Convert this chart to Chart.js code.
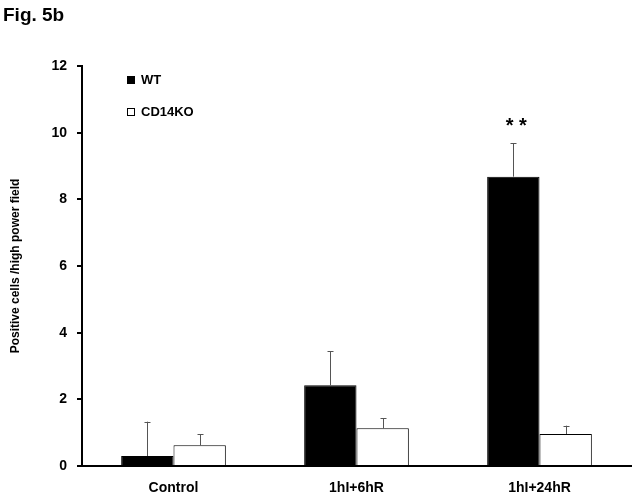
<!DOCTYPE html>
<html>
<head>
<meta charset="utf-8">
<script src="https://cdn.jsdelivr.net/npm/chart.js@4"></script>
<style>
  html, body { margin: 0; padding: 0; background: #fff; }
</style>
</head>
<body>
<canvas id="chart" width="635" height="496"></canvas>
<script>
// ---- data ----
const categories = ["Control", "1hI+6hR", "1hI+24hR"];
const seriesNames = ["WT", "CD14KO"];
const wtValues = [0.30, 2.42, 8.68];
const koValues = [0.62, 1.13, 0.96];
const wtErrors = [1.03, 1.02, 1.00];
const koErrors = [0.33, 0.30, 0.25];
const wtMarks = ["", "", "**"];
const yTicks = [0, 2, 4, 6, 8, 10, 12];

const FONT = "'Liberation Sans', Arial, sans-serif";

// error bars (upper only) + significance stars
const errorBars = {
  id: "errorBars",
  afterDatasetsDraw(chart) {
    const ctx = chart.ctx;
    const y = chart.scales.y;
    const errs = [wtErrors, koErrors];
    chart.data.datasets.forEach((ds, i) => {
      const meta = chart.getDatasetMeta(i);
      meta.data.forEach((bar, j) => {
        const top = y.getPixelForValue(ds.data[j] + errs[i][j]);
        const x = Math.round(bar.x) + 0.5;
        ctx.save();
        ctx.strokeStyle = "#555";
        ctx.lineWidth = 1;
        ctx.beginPath();
        ctx.moveTo(x, bar.y);
        ctx.lineTo(x, top);
        ctx.moveTo(x - 3, Math.round(top) + 0.5);
        ctx.lineTo(x + 3, Math.round(top) + 0.5);
        ctx.stroke();
        ctx.restore();
      });
    });
    // stars over WT
    const meta = chart.getDatasetMeta(0);
    meta.data.forEach((bar, j) => {
      if (!wtMarks[j]) return;
      const top = y.getPixelForValue(wtValues[j] + wtErrors[j]);
      ctx.save();
      ctx.fillStyle = "#000";
      ctx.font = "bold 20px " + FONT;
      ctx.textAlign = "center";
      ctx.textBaseline = "middle";
      ctx.fillText(wtMarks[j].split("").join(" "), bar.x + 3, top - 17);
      ctx.restore();
    });
  }
};

// figure label + legend inside the plot
const extras = {
  id: "extras",
  afterDraw(chart) {
    const ctx = chart.ctx;
    ctx.save();
    ctx.fillStyle = "#000";
    ctx.font = "bold 19px " + FONT;
    ctx.textBaseline = "alphabetic";
    ctx.fillText("Fig. 5b", 3, 21);

    ctx.font = "bold 13px " + FONT;
    ctx.textBaseline = "middle";
    chart.data.datasets.forEach((ds, i) => {
      const cy = 80 + i * 32;
      ctx.fillStyle = ds.backgroundColor;
      ctx.fillRect(127, cy - 4, 8, 8);
      ctx.strokeStyle = "#000";
      ctx.lineWidth = 1;
      ctx.strokeRect(127.5, cy - 3.5, 7, 7);
      ctx.fillStyle = "#000";
      ctx.fillText(ds.label, 141, cy);
    });
    ctx.restore();
  }
};

new Chart(document.getElementById("chart").getContext("2d"), {
  type: "bar",
  data: {
    labels: categories,
    datasets: [
      { label: seriesNames[0], data: wtValues, backgroundColor: "#000", borderColor: "#000", borderWidth: 1 },
      { label: seriesNames[1], data: koValues, backgroundColor: "#fff", borderColor: "#000", borderWidth: 1 }
    ]
  },
  options: {
    responsive: false,
    animation: false,
    layout: { padding: { top: 66, right: 4, left: 0, bottom: 0 } },
    datasets: { bar: { categoryPercentage: 0.572, barPercentage: 1 } },
    plugins: { legend: { display: false }, tooltip: { enabled: false } },
    scales: {
      x: {
        grid: { display: false, drawTicks: false },
        border: { display: true, color: "#000", width: 2 },
        ticks: { color: "#000", font: { family: FONT, size: 14, weight: "bold" }, padding: 14 },
        afterFit(scale) { scale.height = 30; }
      },
      y: {
        min: 0,
        max: 12,
        afterBuildTicks(scale) { scale.ticks = yTicks.map(v => ({ value: v })); },
        grid: { drawOnChartArea: false, drawTicks: true, tickLength: 5, color: "#000", lineWidth: 2 },
        border: { display: true, color: "#000", width: 2 },
        ticks: { color: "#000", font: { family: FONT, size: 14, weight: "bold" }, padding: 10 },
        title: {
          display: true,
          text: "Positive cells /high power field",
          color: "#000",
          font: { family: FONT, size: 12, weight: "bold" },
          padding: { top: 8, bottom: 0 }
        },
        afterFit(scale) { scale.width = 82; }
      }
    }
  },
  plugins: [errorBars, extras]
});
</script>
</body>
</html>
